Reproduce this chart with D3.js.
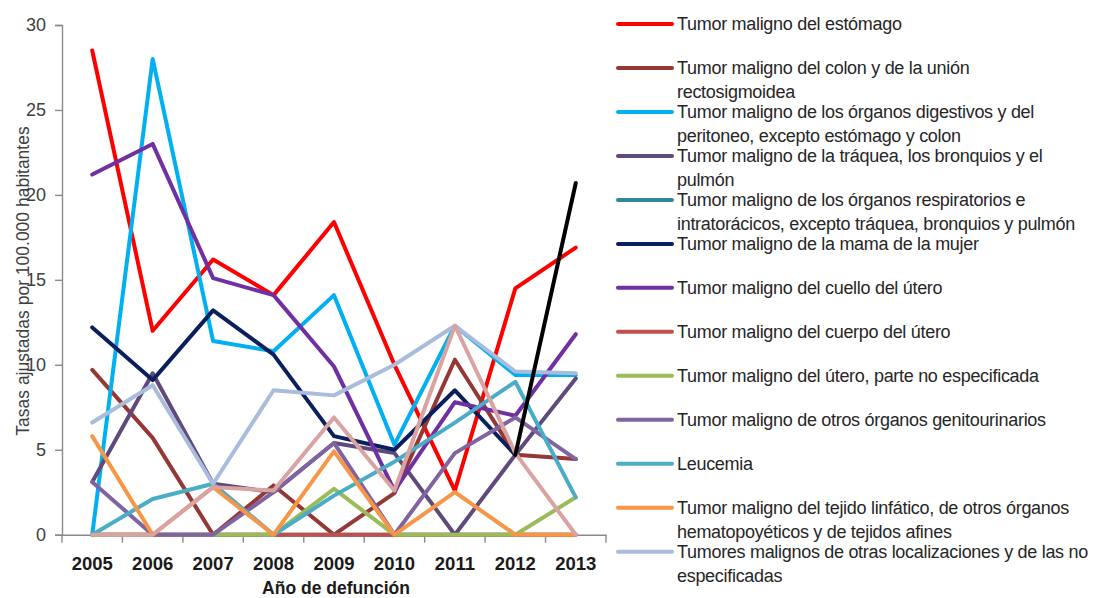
<!DOCTYPE html>
<html><head><meta charset="utf-8">
<script src="https://cdn.jsdelivr.net/npm/d3@7"></script>
<style>body{margin:0;background:#fff;} svg{display:block;}</style>
</head><body>
<svg id="chart" width="1106" height="598"></svg>
<script>
const years = ["2005","2006","2007","2008","2009","2010","2011","2012","2013"];
const yTicks = [0,5,10,15,20,25,30];

const estomago      = [28.5, 12.0, 16.2, 14.1, 18.4, 10.0, 2.6, 14.5, 16.9];
const colon         = [9.7, 5.7, 0, 2.9, 0, 2.45, 10.3, 4.7, 4.45];
const digestivos    = [0, 28.0, 11.4, 10.8, 14.1, 5.3, 12.3, 9.4, 9.4];
const traquea       = [3.1, 9.5, 3.0, 2.5, 5.4, 4.8, 0, 4.7, 9.2];
const respiratorios = [0, 0, 0, 0, 0, 0, 0, 0, 0];
const mama          = [12.2, 9.1, 13.2, 10.6, 5.8, 5.0, 8.5, 4.7, null];
const cuello        = [21.2, 23.0, 15.1, 14.1, 9.9, 2.6, 7.8, 7.0, 11.8];
const cuerpo        = [0, 0, 0, 0, 0, 0, 0, 0, 0];
const uteroNE       = [0, 0, 0, 0, 2.7, 0, 0, 0, 2.2];
const genito        = [3.1, 0, 0, 2.5, 5.4, 0, 4.8, 6.9, 4.45];
const leucemia      = [0, 2.1, 3.0, 0, 2.3, 4.3, 6.6, 9.0, 2.2];
const linfatico     = [5.8, 0, 2.8, 0, 4.9, 0, 2.5, 0, 0];
const otras         = [6.6, 8.8, 3.0, 8.5, 8.2, 10.0, 12.3, 9.6, 9.5];
const extraPink     = [0, 0, 2.8, 2.6, 6.9, 2.6, 12.3, 4.8, 0];
const extraBlack    = [null, null, null, null, null, null, null, 4.7, 20.7];

const legendLabels = [
  ["Tumor maligno del estómago"],
  ["Tumor maligno del colon y de la unión","rectosigmoidea"],
  ["Tumor maligno de los órganos digestivos y del","peritoneo, excepto estómago y colon"],
  ["Tumor maligno de la tráquea, los bronquios y el","pulmón"],
  ["Tumor maligno de los órganos respiratorios e","intratorácicos, excepto tráquea, bronquios y pulmón"],
  ["Tumor maligno de la mama de la mujer"],
  ["Tumor maligno del cuello del útero"],
  ["Tumor maligno del cuerpo del útero"],
  ["Tumor maligno del útero, parte no especificada"],
  ["Tumor maligno de otros órganos genitourinarios"],
  ["Leucemia"],
  ["Tumor maligno del tejido linfático, de otros órganos","hematopoyéticos y de tejidos afines"],
  ["Tumores malignos de otras localizaciones y de las no","especificadas"]
];
const seriesValues = [estomago, colon, digestivos, traquea, respiratorios, mama, cuello, cuerpo, uteroNE, genito, leucemia, linfatico, otras];
const seriesColors = ["#FF0000","#953735","#00B0F0","#604A7B","#31859C","#0B1F5C","#7030A0","#C0504D","#9BBB59","#8064A2","#4BACC6","#F79646","#A9BCDB"];
const extraValues = [extraPink, extraBlack];
const extraColors = ["#D9A3A1","#000000"];

const svg = d3.select("#chart");
const x = d3.scaleBand().domain(years).range([62, 606]);
const y = d3.scaleLinear().domain([0, 30]).range([534.7, 25]);
const cx = d => x(d) + x.bandwidth() / 2;

// Y axis
const gy = svg.append("g").attr("transform", "translate(62,0)")
  .call(d3.axisLeft(y).tickValues(yTicks).tickSize(7).tickPadding(9).tickFormat(d3.format("d")));
gy.select(".domain").attr("stroke", "#8a8a8a").attr("stroke-width", 1.4);
gy.selectAll(".tick line").attr("stroke", "#8a8a8a").attr("stroke-width", 1.4);
gy.selectAll(".tick text").attr("font-family", "Liberation Sans, Arial, sans-serif")
  .attr("font-size", 18).attr("fill", "#404040");

// X axis
const gx = svg.append("g").attr("transform", `translate(0,${y(0)})`)
  .call(d3.axisBottom(x).tickSize(0).tickPadding(22).tickSizeOuter(0));
gx.select(".domain").attr("stroke", "#8a8a8a").attr("stroke-width", 1.4);
gx.selectAll(".tick text").attr("font-family", "Liberation Sans, Arial, sans-serif")
  .attr("font-size", 18.5).attr("font-weight", "bold").attr("fill", "#1a1a1a");
const bounds = years.map(d => x(d)).concat([x(years[years.length - 1]) + x.bandwidth()]);
svg.append("g").selectAll("line").data(bounds).join("line")
  .attr("x1", d => d).attr("x2", d => d)
  .attr("y1", y(0)).attr("y2", y(0) + 8)
  .attr("stroke", "#8a8a8a").attr("stroke-width", 1.4);

// Axis titles
svg.append("text").attr("transform", "translate(23,281) rotate(-90)")
  .attr("text-anchor", "middle").attr("dominant-baseline", "central")
  .attr("font-family", "Liberation Sans, Arial, sans-serif").attr("font-size", 17.5)
  .attr("fill", "#404040").text("Tasas ajustadas por 100.000 habitantes");
svg.append("text").attr("x", 336).attr("y", 594).attr("text-anchor", "middle")
  .attr("font-family", "Liberation Sans, Arial, sans-serif").attr("font-size", 17.5)
  .attr("font-weight", "bold").attr("fill", "#1a1a1a").text("Año de defunción");

// Lines
const line = d3.line().defined(d => d.v !== null).x(d => cx(d.year)).y(d => y(d.v));
const allSeries = seriesValues.map((vals, i) => ({vals, color: seriesColors[i]}))
  .concat(extraValues.map((vals, i) => ({vals, color: extraColors[i]})));
svg.append("g").selectAll("path").data(allSeries).join("path")
  .attr("d", s => line(s.vals.map((v, i) => ({year: years[i], v}))))
  .attr("fill", "none").attr("stroke", s => s.color).attr("stroke-width", 4)
  .attr("stroke-linejoin", "round").attr("stroke-linecap", "round");

// Legend
const ly = d3.scaleLinear().domain([0, 12]).range([24, 551.7]);
const leg = svg.append("g").selectAll("g").data(legendLabels).join("g")
  .attr("transform", (d, i) => `translate(0,${ly(i)})`);
leg.append("line").attr("x1", 618).attr("x2", 672).attr("y1", 0).attr("y2", 0)
  .attr("stroke", (d, i) => seriesColors[i]).attr("stroke-width", 4).attr("stroke-linecap", "round");
leg.each(function(lines) {
  const g = d3.select(this);
  lines.forEach((t, k) => {
    g.append("text").attr("x", 677).attr("y", k * 24).attr("dominant-baseline", "central")
      .attr("font-family", "Liberation Sans, Arial, sans-serif").attr("font-size", 18)
      .attr("letter-spacing", -0.3).attr("fill", "#262626").text(t);
  });
});
</script>
</body></html>
